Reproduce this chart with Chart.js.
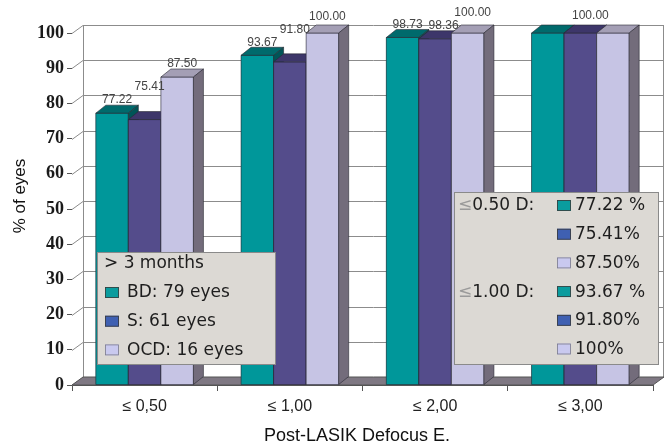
<!DOCTYPE html>
<html>
<head>
<meta charset="utf-8">
<script src="https://cdn.jsdelivr.net/npm/chart.js@4.4.1/dist/chart.umd.min.js"></script>
<style>
  html, body { margin: 0; padding: 0; background: #ffffff; }
  #wrap { width: 671px; height: 446px; }
</style>
</head>
<body>
<div id="wrap"><canvas id="chart" width="671" height="446"></canvas></div>
<script>
// ---- data ----
const categories = ['≤ 0,50', '≤ 1,00', '≤ 2,00', '≤ 3,00'];
const bdValues   = [77.22, 93.67, 98.73, 100.00];
const sValues    = [75.41, 91.80, 98.36, 100.00];
const ocdValues  = [87.50, 100.00, 100.00, 100.00];
const seriesNames = ['BD: 79 eyes', 'S: 61 eyes', 'OCD: 16 eyes'];
const yTicks = [0, 10, 20, 30, 40, 50, 60, 70, 80, 90, 100];
const followUpTitle = '> 3 months';
const thresholdNames = ['≤0.50 D:', '≤1.00 D:'];
const xTitle = 'Post-LASIK Defocus E.';
const yTitle = '% of eyes';

// ---- styling ----
const palette = [
  { front: '#00979a', top: '#006a6c', side: '#005557', key: '#0a9c9e' },
  { front: '#544c8b', top: '#3d366a', side: '#2f2a55', key: '#3f60b2' },
  { front: '#c6c4e4', top: '#a49fb5', side: '#736c7b', key: '#c9c9ef' }
];
const WALL_DX = 11, WALL_DY = 8;   // depth of walls and floor
const BAR_DX = 10, BAR_DY = 8;     // depth of each bar
const GRID = '#8c8c8c';
const LEGEND_BG = '#dcd9d4';
const LEGEND_EDGE = '#8a8a8a';
const SANS = '"Liberation Sans", Arial, sans-serif';
const WIDE = '"DejaVu Sans", Verdana, sans-serif';

const seriesValues = [bdValues, sValues, ocdValues];
const percentText = (v, sep) => (Number.isInteger(v) ? String(v) : v.toFixed(2)) + sep;

// walls, floor and grid behind the bars
const walls = {
  id: 'walls',
  beforeDatasetsDraw(chart) {
    const { ctx, chartArea: a, scales: { y } } = chart;
    ctx.save();
    // back wall
    ctx.fillStyle = '#ffffff';
    ctx.fillRect(a.left + WALL_DX, a.top - WALL_DY, a.right - a.left, a.bottom - a.top);
    // left wall
    ctx.beginPath();
    ctx.moveTo(a.left, a.top);
    ctx.lineTo(a.left + WALL_DX, a.top - WALL_DY);
    ctx.lineTo(a.left + WALL_DX, a.bottom - WALL_DY);
    ctx.lineTo(a.left, a.bottom);
    ctx.closePath();
    ctx.fill();
    // grid lines across the left and back walls
    ctx.strokeStyle = GRID;
    ctx.lineWidth = 1;
    yTicks.forEach(v => {
      const py = Math.round(y.getPixelForValue(v)) + 0.5;
      ctx.beginPath();
      ctx.moveTo(a.left, py);
      ctx.lineTo(a.left + WALL_DX, py - WALL_DY);
      ctx.lineTo(a.right + WALL_DX, py - WALL_DY);
      ctx.stroke();
    });
    // wall edges
    ctx.beginPath();
    ctx.moveTo(a.left + WALL_DX + 0.5, a.top - WALL_DY);
    ctx.lineTo(a.left + WALL_DX + 0.5, a.bottom - WALL_DY);
    ctx.moveTo(a.right + WALL_DX - 0.5, a.top - WALL_DY);
    ctx.lineTo(a.right + WALL_DX - 0.5, a.bottom - WALL_DY);
    ctx.stroke();
    // floor
    ctx.beginPath();
    ctx.moveTo(a.left, a.bottom);
    ctx.lineTo(a.left + WALL_DX, a.bottom - WALL_DY);
    ctx.lineTo(a.right + WALL_DX, a.bottom - WALL_DY);
    ctx.lineTo(a.right, a.bottom);
    ctx.closePath();
    ctx.fillStyle = '#7f7883';
    ctx.fill();
    ctx.strokeStyle = '#555555';
    ctx.stroke();
    ctx.restore();
  }
};

// solid bars: front, top and right faces, drawn left to right
const solidBars = {
  id: 'solidBars',
  afterDatasetsDraw(chart) {
    const { ctx } = chart;
    const n = chart.data.labels.length;
    ctx.save();
    ctx.lineWidth = 0.8;
    ctx.strokeStyle = 'rgba(40,40,50,0.75)';
    const shape = pts => {
      ctx.beginPath();
      ctx.moveTo(pts[0][0], pts[0][1]);
      for (let k = 1; k < pts.length; k++) ctx.lineTo(pts[k][0], pts[k][1]);
      ctx.closePath();
      ctx.fill();
      ctx.stroke();
    };
    for (let i = 0; i < n; i++) {
      chart.data.datasets.forEach((ds, d) => {
        const el = chart.getDatasetMeta(d).data[i];
        const { x, y, base, width } = el.getProps(['x', 'y', 'base', 'width'], true);
        const xl = x - width / 2, xr = x + width / 2;
        const c = palette[d];
        ctx.fillStyle = c.front;
        shape([[xl, y], [xr, y], [xr, base], [xl, base]]);
        ctx.fillStyle = c.top;
        shape([[xl, y], [xl + BAR_DX, y - BAR_DY], [xr + BAR_DX, y - BAR_DY], [xr, y]]);
        ctx.fillStyle = c.side;
        shape([[xr, y], [xr + BAR_DX, y - BAR_DY], [xr + BAR_DX, base - BAR_DY], [xr, base]]);
      });
    }

    // value labels above the bars, nudged apart when they collide
    ctx.font = '12px ' + SANS;
    ctx.fillStyle = '#444444';
    ctx.textAlign = 'center';
    ctx.textBaseline = 'middle';
    for (let i = 0; i < n; i++) {
      const vals = chart.data.datasets.map(ds => ds.data[i]);
      const metas = vals.map((v, d) => chart.getDatasetMeta(d).data[i]);
      if (vals.every(v => v === vals[0])) {
        const mid = metas[Math.floor(metas.length / 2)];
        ctx.fillText(vals[0].toFixed(2), mid.x + BAR_DX, mid.y - 17);
        continue;
      }
      const placed = [];
      vals.forEach((v, d) => {
        const el = metas[d];
        const txt = v.toFixed(2);
        const w = ctx.measureText(txt).width + 6;
        let cx = el.x + BAR_DX / 2;
        let cy = el.y - 13;
        placed.forEach(p => {
          if (Math.abs(cx - p.cx) < (w + p.w) / 2 && Math.abs(cy - p.cy) < 13) {
            if (p.cy - 13 >= 12) cy = p.cy - 13;
            else cx = p.cx + (w + p.w) / 2;
          }
        });
        placed.push({ cx, cy, w });
        ctx.fillText(txt, cx, cy);
      });
    }
    ctx.restore();
  }
};

// axis titles and the two legend boxes
const overlays = {
  id: 'overlays',
  afterDraw(chart) {
    const { ctx } = chart;
    ctx.save();
    // axis titles
    ctx.fillStyle = '#111111';
    ctx.textAlign = 'center';
    ctx.textBaseline = 'middle';
    ctx.font = '18px ' + SANS;
    ctx.fillText(xTitle, 357, 436);
    ctx.save();
    ctx.translate(20, 196);
    ctx.rotate(-Math.PI / 2);
    ctx.font = '17px ' + SANS;
    ctx.fillText(yTitle, 0, 0);
    ctx.restore();

    const box = (x, y, w, h) => {
      ctx.fillStyle = LEGEND_BG;
      ctx.fillRect(x, y, w, h);
      ctx.strokeStyle = LEGEND_EDGE;
      ctx.lineWidth = 1;
      ctx.strokeRect(x + 0.5, y + 0.5, w - 1, h - 1);
    };
    const key = (x, y, w, h, d) => {
      ctx.fillStyle = palette[d].key;
      ctx.fillRect(x, y, w, h);
      ctx.strokeStyle = d === 2 ? '#7a7a8a' : '#3a3a3a';
      ctx.lineWidth = 0.8;
      ctx.strokeRect(x + 0.5, y + 0.5, w - 1, h - 1);
    };

    ctx.font = '17px ' + WIDE;
    ctx.textAlign = 'left';

    // series legend
    box(97, 252, 179, 113);
    ctx.fillStyle = '#1e1e1e';
    ctx.fillText(followUpTitle, 104, 264);
    seriesNames.forEach((name, d) => {
      const ry = 292 + d * 28.7;
      key(105, ry - 5, 14, 11, d);
      ctx.fillStyle = '#1e1e1e';
      ctx.fillText(name, 127, ry + 1);
    });

    // percentage summary legend
    box(454, 192, 205, 173);
    const seps = [' %', '%', '%'];
    thresholdNames.forEach((label, t) => {
      seriesValues.forEach((vals, d) => {
        const ry = 206 + (t * 3 + d) * 28.7;
        if (d === 0) {
          ctx.fillStyle = '#9a9a9a';
          ctx.fillText(label.charAt(0), 458, ry);
          const off = ctx.measureText(label.charAt(0)).width;
          ctx.fillStyle = '#1e1e1e';
          ctx.fillText(label.slice(1), 458 + off, ry);
        }
        key(557, ry - 6, 14, 11, d);
        ctx.fillStyle = '#1e1e1e';
        ctx.fillText(percentText(vals[t], seps[d]), 575, ry);
      });
    });
    ctx.restore();
  }
};

new Chart(document.getElementById('chart'), {
  type: 'bar',
  data: {
    labels: categories,
    datasets: seriesNames.map((name, d) => ({
      label: name,
      data: seriesValues[d],
      backgroundColor: palette[d].front,
      borderWidth: 0,
      categoryPercentage: 0.672,
      barPercentage: 1.0
    }))
  },
  options: {
    responsive: false,
    animation: false,
    devicePixelRatio: 1,
    layout: { padding: { top: 33, right: 18, left: 0, bottom: 0 } },
    plugins: { legend: { display: false }, tooltip: { enabled: false } },
    scales: {
      x: {
        grid: { display: true, offset: true, drawOnChartArea: false, drawTicks: true, tickLength: 6, color: '#555555' },
        border: { display: true, color: '#555555' },
        ticks: { font: { family: SANS, size: 16 }, color: '#222222', padding: 6 },
        afterFit(scale) { scale.height = 61; }
      },
      y: {
        min: 0,
        max: 100,
        afterBuildTicks(scale) { scale.ticks = yTicks.map(v => ({ value: v })); },
        grid: { display: true, drawOnChartArea: false, drawTicks: true, tickLength: 5, color: '#555555' },
        border: { display: true, color: '#555555' },
        ticks: { font: { family: '"Liberation Serif", "Times New Roman", serif', size: 18, weight: 'bold' }, color: '#1a1a1a', padding: 3 },
        afterFit(scale) { scale.width = 72; }
      }
    }
  },
  plugins: [walls, solidBars, overlays]
});
</script>
</body>
</html>
